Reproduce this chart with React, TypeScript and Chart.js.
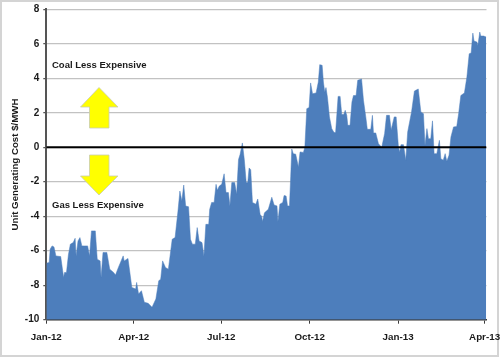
import React, { useEffect, useRef } from "react";
import { Chart, registerables } from "chart.js";

Chart.register(...registerables);

const tickDays = [0, 91, 182, 274, 366, 456];
const tickLabels = ["Jan-12", "Apr-12", "Jul-12", "Oct-12", "Jan-13", "Apr-13"];

const days = [
  0, 3, 4, 6, 8, 10, 15, 18, 19, 21, 23, 25, 28, 30, 31, 33, 35, 37, 40, 43, 45, 47, 51, 53, 56, 57, 59, 63, 66, 70, 72, 75, 80, 81, 85, 89, 93, 94, 96, 99, 102, 106, 110, 114, 117, 119, 121, 124, 127, 131, 134, 137, 139, 141, 143, 145, 148, 150, 152, 155, 157, 159, 162, 164, 166, 169, 170,
  172, 174.6, 176.6, 178, 180, 182.5, 185, 187, 189.5, 191, 193, 196, 198, 200, 201.6, 204, 206, 208, 209.6, 211, 212.7, 214.5, 218, 220, 222.5, 224, 225, 227, 231, 234.6, 237, 240, 241, 243, 246, 247.4, 249.5, 251, 253,
  254.3, 255.4, 257, 259.5, 262.3, 264, 267.5, 269, 271, 273.4, 275, 277, 280.7, 283, 284.5, 287, 288.3, 289.7, 291, 292.5, 294.6, 297, 299.4, 301, 303.6, 305.7, 307.4, 309.5, 311, 312.6, 313.7, 316, 318, 319.6, 322.3, 324, 328, 330, 332.4, 334, 337.6, 339.3, 340.4, 342.8, 345.6, 349, 352, 354, 357, 358.8, 362, 364, 366.4, 367.8, 369, 371.6, 374, 376, 380, 383, 387, 389.7, 392.4, 394, 396, 397.6, 400, 401.8, 403.5, 406.3, 409, 410.5, 413, 415, 416.7, 419, 421, 423.7, 427, 429, 431.3, 435, 437.6, 440, 442, 443.8, 445, 448, 449, 451, 452, 455, 457.7,
];

const costs = [
  -6.72, -6.68, -5.91, -5.72, -5.78, -6.3, -6.34, -7.55, -7.26, -7.26, -6.24, -5.62, -5.53, -5.28, -6.3, -5.43, -5.24, -5.72, -5.72, -5.72, -6.3, -4.85, -4.85, -6.49, -6.59, -7.55, -6.1, -6.1, -7.07, -7.26, -7.41, -6.97, -6.3, -6.59, -6.45, -8.13, -8.22, -7.84, -8.51, -8.32, -8.99, -9.05, -9.28, -8.8, -7.74, -7.65, -6.59, -6.97, -7.07, -5.33, -5.24, -3.7, -2.54, -3.12, -2.19, -3.41, -3.45, -5.33, -5.62, -5.62, -4.66, -5.43, -5.53, -6.3, -4.47, -4.47, -3.6,
  -3.2, -3.2, -2.15, -2.5, -2.25, -2.15, -1.54, -2.63, -2.63, -3.4, -2.05, -2.05, -2.73, -0.71, -0.42, 0.25, -0.71, -2.05, -2.05, -1.2, -1.3, -3.2, -3.3, -3.0, -3.9, -4.0, -4.3, -3.8, -3.6, -2.9, -3.35, -3.4, -4.3, -3.3, -3.2, -2.8, -2.83, -3.4, -3.4,
  -1.7, -0.1, -0.37, -0.4, -1.14, -0.27, -0.3, 0, 2.24, 2.3, 3.73, 3.1, 3.15, 3.78, 4.79, 4.75, 3.78, 3.2, 3.46, 2.9, 1.76, 1.08, 0.85, 0.85, 2.95, 2.95, 1.9, 1.9, 2.14, 1.85, 1.27, 1.27, 2.63, 3.0, 3.0, 3.88, 3.96, 2.72, 1.76, 1.04, 1.04, 1.85, 0.83, 0.83, 0.2, 0, 0.8, 1.85, 1.85, 1, 1.76, 1.76, 0, -0.27, 0.15, 0.15, -0.75, 0.89, 2.05, 3.26, 3.38, 2.05, 1.95, 0.1, 1.08, 0.5, 0.5, 1.53, -0.37, -0.37, 0.4, -0.66, -0.75, -0.37, -0.81, -0.46, 0.6, 1.18, 1.2, 1.95, 3.0, 3.15, 4.07, 5.42, 5.46, 6.62, 6.16, 6.1, 5.9, 6.68, 6.45, 6.45, 6.39,
];

const zeroLineDays = [0, 458];
const zeroLineValues = [0, 0];

const yTitle = "Unit Generating Cost $/MWH";
const upperNote = "Coal Less Expensive";
const lowerNote = "Gas Less Expensive";
const FONT = '"Liberation Sans", Arial, sans-serif';

function arrow(ctx: CanvasRenderingContext2D, pts: number[][]) {
  ctx.beginPath();
  pts.forEach(([x, y], i) => (i ? ctx.lineTo(x, y) : ctx.moveTo(x, y)));
  ctx.closePath();
  ctx.fillStyle = "#ffff00";
  ctx.strokeStyle = "#c9cdb0";
  ctx.lineWidth = 0.8;
  ctx.fill();
  ctx.stroke();
}

const decor = {
  id: "decor",
  beforeDraw(chart: any) {
    const c = chart.ctx;
    c.save();
    c.fillStyle = "#ffffff";
    c.fillRect(0, 0, 500, 358);
    c.strokeStyle = "#d4d4d4";
    c.lineWidth = 2;
    c.strokeRect(1, 1, 497, 355);
    c.restore();
  },
  afterDraw(chart: any) {
    const c = chart.ctx;
    c.save();
    arrow(c, [[99, 87.5], [118, 107], [109, 107], [109, 128], [89.5, 128], [89.5, 107], [80.5, 107]]);
    arrow(c, [[89.5, 155], [109, 155], [109, 176], [118, 176], [99, 195], [80.5, 176], [89.5, 176]]);
    c.fillStyle = "#1a1a1a";
    c.font = "bold 9.5px " + FONT;
    c.textAlign = "left";
    c.textBaseline = "alphabetic";
    c.fillText(upperNote, 52, 68);
    c.fillText(lowerNote, 52, 208);
    c.restore();
  },
};

export default function App() {
  const ref = useRef<HTMLCanvasElement>(null);
  useEffect(() => {
    document.body.style.margin = "0";
    const chart = new Chart(ref.current!, {
      type: "line",
      data: {
        datasets: [
          {
            data: zeroLineDays.map((x, i) => ({ x, y: zeroLineValues[i] })),
            borderColor: "#000000",
            borderWidth: 2.2,
            pointRadius: 0,
            fill: false,
            order: 0,
          },
          {
            data: days.map((x, i) => ({ x, y: costs[i] })),
            borderColor: "#4d7ebc",
            borderWidth: 0.5,
            backgroundColor: "#4d7ebc",
            pointRadius: 0,
            tension: 0,
            fill: "start",
            order: 1,
          },
        ],
      },
      plugins: [decor],
      options: {
        animation: false,
        responsive: false,
        layout: { padding: { top: 9.3, right: 13.5, left: 0, bottom: 0 } },
        plugins: { legend: { display: false }, tooltip: { enabled: false } },
        scales: {
          x: {
            type: "linear",
            min: 0,
            max: 458,
            afterBuildTicks: (s: any) => {
              s.ticks = tickDays.map((value) => ({ value }));
            },
            afterFit: (s: any) => {
              s.height = 38.3;
              s.paddingLeft = 0;
              s.paddingRight = 0;
            },
            border: { color: "#3a3a3a", width: 1.5 },
            grid: { drawOnChartArea: false, tickColor: "#3a3a3a", tickLength: 4 },
            ticks: {
              autoSkip: false,
              maxRotation: 0,
              padding: 8,
              color: "#1a1a1a",
              font: { family: FONT, size: 9.8, weight: "bold" },
              callback: (v: any) => tickLabels[tickDays.indexOf(v)] ?? "",
            },
          },
          y: {
            min: -10,
            max: 8,
            afterFit: (s: any) => {
              s.width = 46.3;
              s.paddingTop = 0;
              s.paddingBottom = 0;
            },
            border: { color: "#555555", width: 2 },
            grid: { color: "#c2c2c2", lineWidth: 1.3, tickColor: "#555555", tickLength: 3 },
            ticks: {
              stepSize: 2,
              padding: 4,
              color: "#1a1a1a",
              font: { family: FONT, size: 10, weight: "bold" },
            },
            title: {
              display: true,
              text: yTitle,
              color: "#1a1a1a",
              padding: { top: 10, bottom: 0 },
              font: { family: FONT, size: 9.7, weight: "bold" },
            },
          },
        },
      },
    } as any);
    return () => chart.destroy();
  }, []);
  return <canvas ref={ref} width={500} height={358} style={{ display: "block" }} />;
}
